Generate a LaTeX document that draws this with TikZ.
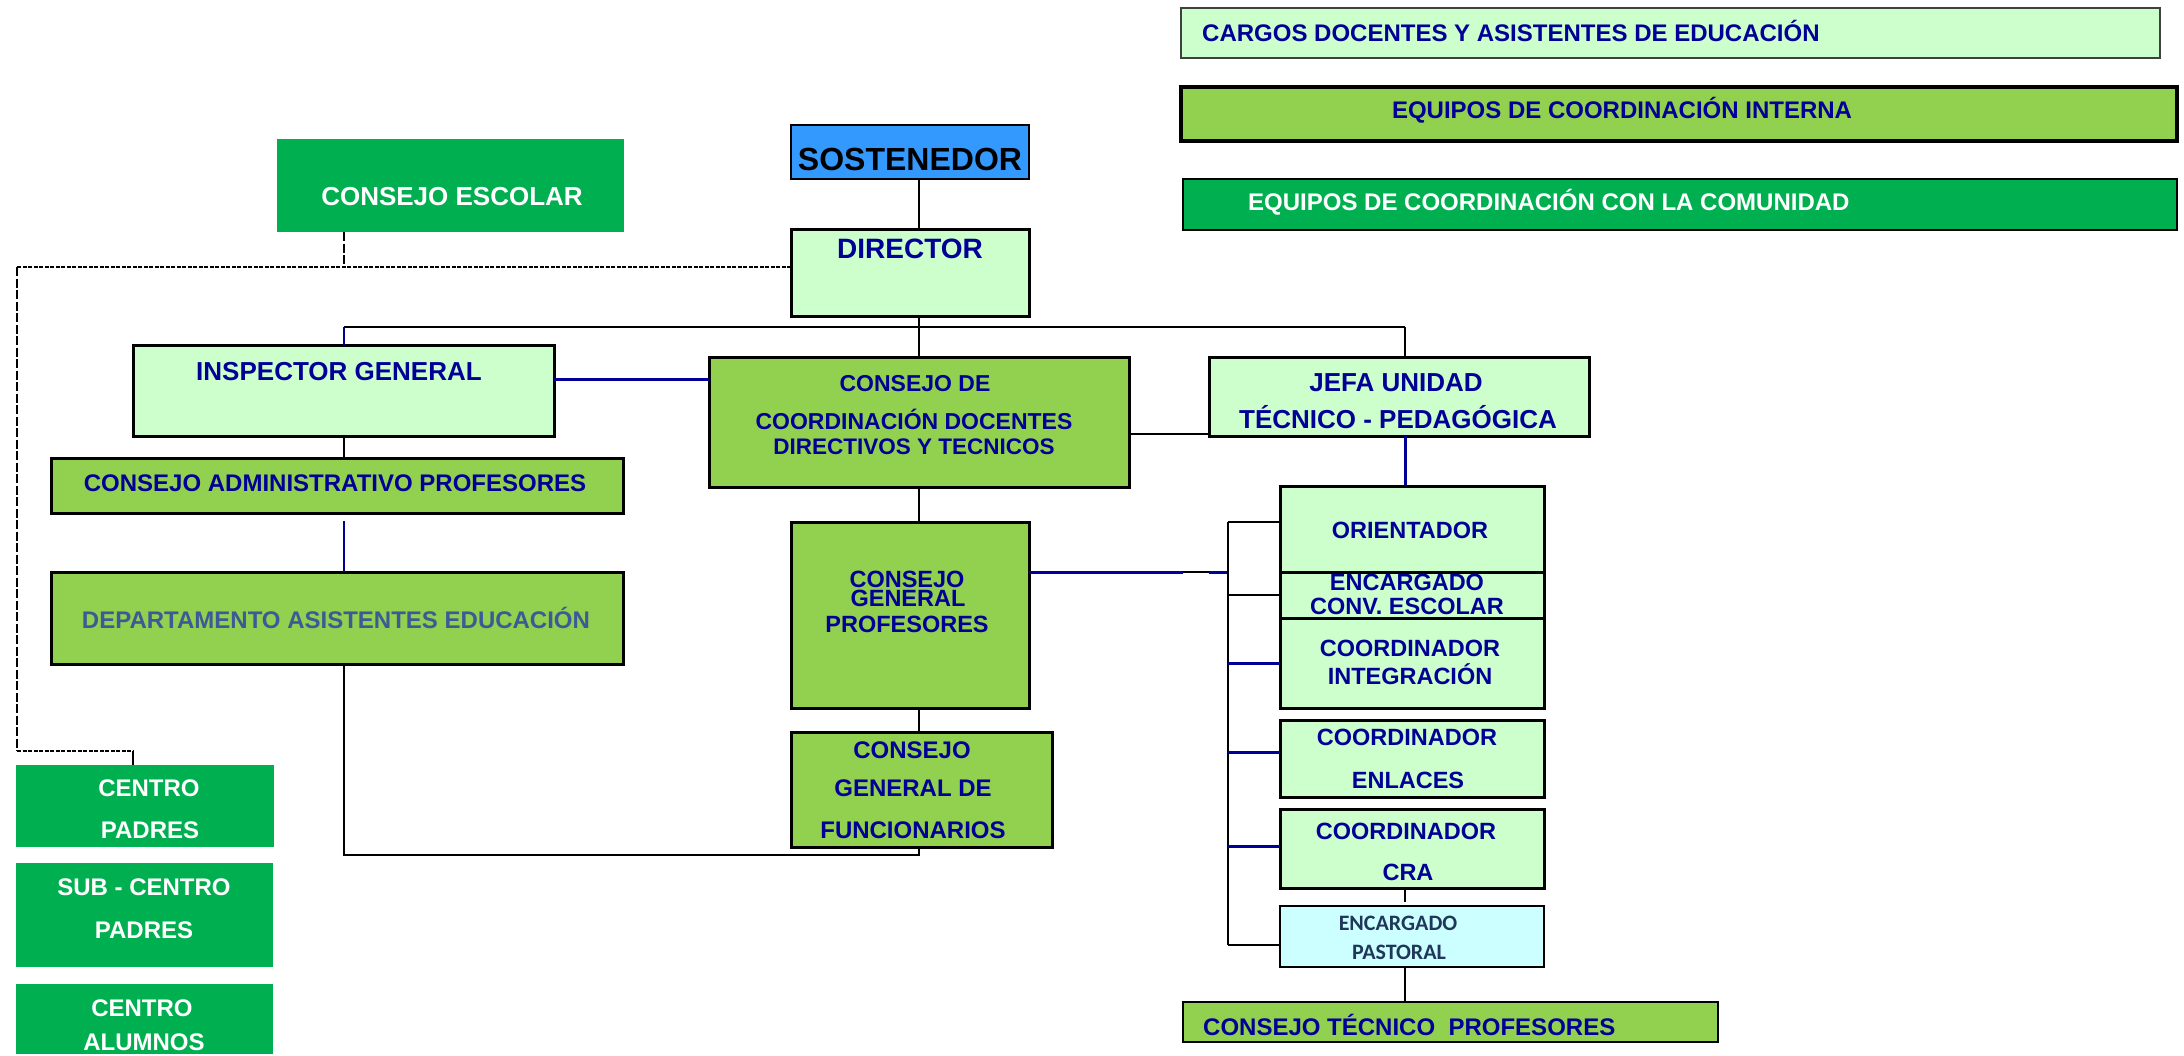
\documentclass[tikz,border=0pt]{standalone}
\usepackage{fontspec}
\setmainfont{Liberation Sans}
\newfontfamily\calfont{Carlito}
\usetikzlibrary{fit}
\definecolor{cnavy}{RGB}{0,0,150}
\definecolor{lgreen}{RGB}{204,255,204}
\definecolor{mgreen}{RGB}{146,208,80}
\definecolor{dgreen}{RGB}{0,176,80}
\definecolor{sblue}{RGB}{51,153,255}
\definecolor{lcyan}{RGB}{204,255,255}
\definecolor{slatec}{RGB}{60,90,150}
\definecolor{pastext}{RGB}{31,56,90}
\tikzset{
  bxbase/.style={rectangle, inner sep=0pt, outer sep=0pt},
  lgbox/.style={bxbase, fill=lgreen, draw=black, line width=3pt},
  mgbox/.style={bxbase, fill=mgreen, draw=black, line width=3pt},
  dgbox/.style={bxbase, fill=dgreen},
  con/.style={line width=2pt, draw=black},
  bcon/.style={line width=3pt, draw=cnavy},
  dcon/.style={line width=2.5pt, draw=black, dash pattern=on 4pt off 1.5pt},
  dconv/.style={line width=1.5pt, draw=black, dash pattern=on 9pt off 2.5pt},
}
\newcommand{\bx}[6]{\node[bxbase, #6, fit={(#2,#3) (#4,#5)}] (#1) {};}
\newcommand{\tx}[6][]{\node[anchor=base, inner sep=0pt, text=cnavy, font=\fontsize{#5}{#5}\selectfont\bfseries, #1] (#2) at (#3,{#4+0.358*#5}) {#6};}
\begin{document}
\begin{tikzpicture}[x=1pt, y=-1pt]
\useasboundingbox (0,0) rectangle (2184,1055);
% ---------- boxes ----------
\bx{cargos}{1181}{8}{2160}{58}{fill=lgreen, draw=black!75, line width=1.5pt}
\bx{interna}{1181}{87}{2177}{141}{fill=mgreen, draw=black, line width=3.5pt}
\bx{comun}{1183}{179}{2177}{230}{fill=dgreen, draw=black, line width=2.5pt}
\bx{escolar}{277}{139}{624}{232}{dgbox}
\bx{sost}{791}{125}{1029}{179}{fill=sblue, draw=black, line width=2.5pt}
\bx{dir}{791}{229}{1029}{316}{lgbox}
\bx{insp}{133}{345}{554}{436}{lgbox}
\bx{admin}{51}{458}{623}{513}{mgbox}
\bx{depto}{51}{572}{623}{664}{mgbox}
\bx{coord}{709}{357}{1129}{487}{mgbox}
\bx{jefa}{1209}{357}{1589}{436}{lgbox}
\bx{cgp}{791}{522}{1029}{708}{mgbox}
\bx{cgf}{791}{732}{1052}{847}{mgbox}
\bx{orient}{1280}{486}{1544}{572}{lgbox}
\bx{conv}{1280}{572}{1544}{618}{lgbox}
\bx{integ}{1280}{618}{1544}{708}{lgbox}
\bx{enl}{1280}{720}{1544}{797}{lgbox}
\bx{cra}{1280}{809}{1544}{888}{lgbox}
\bx{past}{1280}{906}{1544}{967}{fill=lcyan, draw=black, line width=2pt}
\bx{ctec}{1183}{1002}{1718}{1042}{fill=mgreen, draw=black, line width=2.5pt}
\bx{cpad}{16}{765}{274}{847}{dgbox}
\bx{subc}{16}{863}{273}{967}{dgbox}
\bx{calum}{16}{984}{273}{1054}{dgbox}
% ---------- helper coordinates ----------
\coordinate (xA) at (344,0);
\coordinate (xD) at (919,0);
\coordinate (xJ) at (1405,0);
\coordinate (xB) at (1228,0);
\coordinate (xL) at (17,0);
\coordinate (xP) at (133,0);
\coordinate (xK) at (1183,0);
\coordinate (xM) at (1209,0);
\coordinate (yH) at (0,327);
\coordinate (yE) at (0,267);
\coordinate (yI) at (0,379);
\coordinate (yJ) at (0,434);
\coordinate (yG) at (0,572);
\coordinate (yF) at (0,855);
\coordinate (yC) at (0,751);
\coordinate (yb1) at (0,522);
\coordinate (yb2) at (0,595);
\coordinate (yb3) at (0,663);
\coordinate (yb4) at (0,752);
\coordinate (yb5) at (0,846);
\coordinate (yb6) at (0,945);
\coordinate (gapA) at (344,521);
\coordinate (craend) at (1405,902);
% ---------- connectors ----------
\draw[con] (sost.south -| xD) -- (dir.north -| xD);
\draw[con] (dir.south -| xD) -- (coord.north -| xD);
\draw[con] (xA |- yH) -- (xJ |- yH);
\draw[bcon, line width=2pt] (xA |- yH) -- (insp.north -| xA);
\draw[con] (xJ |- yH) -- (jefa.north -| xJ);
\draw[bcon] (insp.east |- yI) -- (coord.west |- yI);
\draw[con] (insp.south -| xA) -- (admin.north -| xA);
\draw[bcon, line width=2pt] (gapA) -- (depto.north -| xA);
\draw[con] (depto.south -| xA) -- (xA |- yF) -- (xD |- yF) -- (cgf.south -| xD);
\draw[con] (coord.south -| xD) -- (cgp.north -| xD);
\draw[con] (cgp.south -| xD) -- (cgf.north -| xD);
\draw[con] (coord.east |- yJ) -- (jefa.west |- yJ);
\draw[bcon] (jefa.south -| xJ) -- (orient.north -| xJ);
\draw[bcon] (cgp.east |- yG) -- (xK |- yG);
\draw[con] (xK |- yG) -- (xM |- yG);
\draw[bcon] (xM |- yG) -- (xB |- yG);
\draw[con] (xB |- yb1) -- (xB |- yb6);
\draw[con] (xB |- yb1) -- (orient.west |- yb1);
\draw[con] (xB |- yb2) -- (conv.west |- yb2);
\draw[bcon] (xB |- yb3) -- (integ.west |- yb3);
\draw[bcon] (xB |- yb4) -- (enl.west |- yb4);
\draw[bcon] (xB |- yb5) -- (cra.west |- yb5);
\draw[con] (xB |- yb6) -- (past.west |- yb6);
\draw[con] (cra.south -| xJ) -- (craend);
\draw[con] (past.south -| xJ) -- (ctec.north -| xJ);
\draw[dconv] (escolar.south -| xA) -- (xA |- yE);
\draw[dcon] (dir.west |- yE) -- (xL |- yE);
\draw[dconv] (xL |- yE) -- (xL |- yC);
\draw[dcon] (xL |- yC) -- (xP |- yC);
\draw[con] (xP |- yC) -- (cpad.north -| xP);
% ---------- texts ----------
\tx[anchor=base west]{tcargos}{1202}{33}{24}{CARGOS DOCENTES Y ASISTENTES DE EDUCACIÓN}
\tx{tinterna}{1622}{110}{24}{EQUIPOS DE COORDINACIÓN INTERNA}
\tx[anchor=base west, text=white]{tcomun}{1248}{202}{24}{EQUIPOS DE COORDINACIÓN CON LA COMUNIDAD}
\tx[text=white]{tesc}{452}{196}{26}{CONSEJO ESCOLAR}
\tx[text=black]{tsost}{910}{159}{32}{SOSTENEDOR}
\tx{tdir}{910}{248}{28}{DIRECTOR}
\tx{tinsp}{339}{371}{26}{INSPECTOR GENERAL}
\tx{tadmin}{335}{483}{24}{CONSEJO ADMINISTRATIVO PROFESORES}
\tx[text=slatec]{tdepto}{336}{620}{24}{DEPARTAMENTO ASISTENTES EDUCACIÓN}
\tx{tcoA}{915}{383}{23}{CONSEJO DE}
\tx{tcoB}{914}{421}{23}{COORDINACIÓN DOCENTES}
\tx{tcoC}{914}{446}{22.5}{DIRECTIVOS Y TECNICOS}
\tx{tjeA}{1396}{382}{26}{JEFA UNIDAD}
\tx{tjeB}{1398}{419}{26}{TÉCNICO - PEDAGÓGICA}
\tx{tcgpA}{907}{579}{23.5}{CONSEJO}
\tx{tcgpB}{908}{598}{23.5}{GENERAL}
\tx{tcgpC}{907}{624}{23.5}{PROFESORES}
\tx{tcgfA}{912}{750}{24}{CONSEJO}
\tx{tcgfB}{913}{788}{24}{GENERAL DE}
\tx{tcgfC}{913}{830}{24}{FUNCIONARIOS}
\tx{tor}{1410}{530}{23.5}{ORIENTADOR}
\tx{tcvA}{1407}{582}{23.5}{ENCARGADO}
\tx{tcvB}{1407}{606}{23.5}{CONV. ESCOLAR}
\tx{tinA}{1410}{648}{23.5}{COORDINADOR}
\tx{tinB}{1410}{676}{23.5}{INTEGRACIÓN}
\tx{tenA}{1407}{737}{23.5}{COORDINADOR}
\tx{tenB}{1408}{780}{23.5}{ENLACES}
\tx{tcrA}{1406}{831}{23.5}{COORDINADOR}
\tx{tcrB}{1408}{872}{23.5}{CRA}
\tx[font=\calfont\fontsize{22}{22}\selectfont\bfseries, text=pastext]{tpaA}{1398}{923}{22}{ENCARGADO}
\tx[font=\calfont\fontsize{22}{22}\selectfont\bfseries, text=pastext]{tpaB}{1399}{952}{22}{PASTORAL}
\tx[anchor=base west]{tctec}{1203}{1027}{24}{CONSEJO TÉCNICO\ \ PROFESORES}
\tx[text=white]{tcpA}{149}{788}{24}{CENTRO}
\tx[text=white]{tcpB}{150}{830}{24}{PADRES}
\tx[text=white]{tscA}{144}{887}{24}{SUB - CENTRO}
\tx[text=white]{tscB}{144}{930}{24}{PADRES}
\tx[text=white]{tcaA}{142}{1008}{24}{CENTRO}
\tx[text=white]{tcaB}{144}{1042}{24}{ALUMNOS}
\end{tikzpicture}
\end{document}
